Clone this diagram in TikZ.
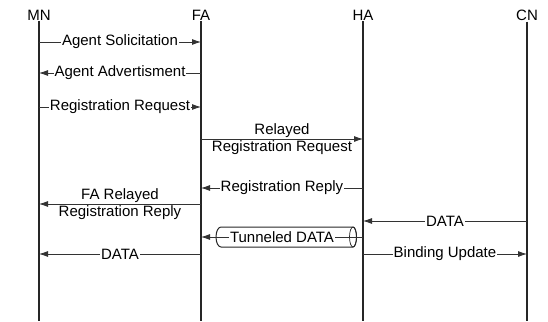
\documentclass[tikz,border=0pt]{standalone}
\usepackage{fontspec}
\setmainfont{Liberation Sans}
\usetikzlibrary{calc}
\usetikzlibrary{positioning}
\usetikzlibrary{arrows.meta}
\tikzstyle{lifehead} = [inner sep=1pt, font=\fontsize{15}{17}\selectfont]
\tikzstyle{lifeline} = [draw, line width=1.2pt, black!85]
\tikzstyle{msgarrow} = [draw, line width=0.8pt, black!80, -{Latex[length=9pt,width=6pt]}]
\tikzstyle{msglabel} = [fill=white, inner sep=1pt, text=black, font=\fontsize{15}{17}\selectfont]
\tikzstyle{msgabove} = [above, inner sep=1pt, text=black, font=\fontsize{15}{17}\selectfont]
\tikzstyle{msgbelow} = [below, inner sep=1pt, text=black, font=\fontsize{15}{17}\selectfont]
\tikzstyle{tunnelpipe} = [draw, line width=1pt, black!85]

\begin{document}
\begin{tikzpicture}[x=1pt, y=-1pt]
    \useasboundingbox (0,0) rectangle (548,321);
    \node[lifehead] (mn) at (39,15) {MN};
    \node[lifehead] (fa) at (201,15) {FA};
    \node[lifehead] (ha) at (363,15) {HA};
    \node[lifehead] (cn) at (527,15) {CN};
    \coordinate (bottom) at (0,321);

    \draw[lifeline] (mn.south) -- (mn |- bottom);
    \draw[lifeline] (fa.south) -- (fa |- bottom);
    \draw[lifeline] (ha.south) -- (ha |- bottom);
    \draw[lifeline] (cn.south) -- (cn |- bottom);

    \coordinate (msg_sol) at (0,42);
    \coordinate (msg_adv) at (0,73);
    \coordinate (msg_req) at (0,107);
    \coordinate (msg_relreq) at (0,139);
    \coordinate (msg_rep) at (0,188);
    \coordinate (msg_relrep) at (0,204);
    \coordinate (msg_cndata) at (0,221);
    \coordinate (msg_tun) at (0,237);
    \coordinate (msg_data) at (0,254);

    % tunnel pipe between FA and HA
    \coordinate (tun_left) at (221,237);
    \coordinate (tun_right) at (353,237);
    \draw[tunnelpipe] ($(tun_left)+(0,-10)$) arc[start angle=270, end angle=90, x radius=5, y radius=10]
        -- ($(tun_right)+(0,10)$) arc[start angle=90, end angle=-90, x radius=3.5, y radius=10] -- cycle;
    \draw[tunnelpipe, line width=0.7pt] (tun_right) ellipse[x radius=3.5, y radius=10];

    \draw[msgarrow] (mn |- msg_sol) -- node[msglabel] {Agent Solicitation} (fa |- msg_sol);
    \draw[msgarrow] (fa |- msg_adv) -- node[msglabel] {Agent Advertisment} (mn |- msg_adv);
    \draw[msgarrow] (mn |- msg_req) -- node[msglabel] {Registration Request} (fa |- msg_req);
    \draw[msgarrow] (fa |- msg_relreq) -- node[msgabove] {Relayed} node[msgbelow] {Registration Request} (ha |- msg_relreq);
    \draw[msgarrow] (ha |- msg_rep) -- node[msglabel] {Registration Reply} (fa |- msg_rep);
    \draw[msgarrow] (fa |- msg_relrep) -- node[msgabove] {FA Relayed} node[msgbelow] {Registration Reply} (mn |- msg_relrep);
    \draw[msgarrow] (cn |- msg_cndata) -- node[msglabel] {DATA} (ha |- msg_cndata);
    \draw[msgarrow] (ha |- msg_tun) -- node[msglabel] {Tunneled DATA} (fa |- msg_tun);
    \draw[msgarrow] (fa |- msg_data) -- node[msglabel] {DATA} (mn |- msg_data);
    \draw[msgarrow] (ha |- msg_data) -- node[msglabel] {Binding Update} (cn |- msg_data);
\end{tikzpicture}
\end{document}
